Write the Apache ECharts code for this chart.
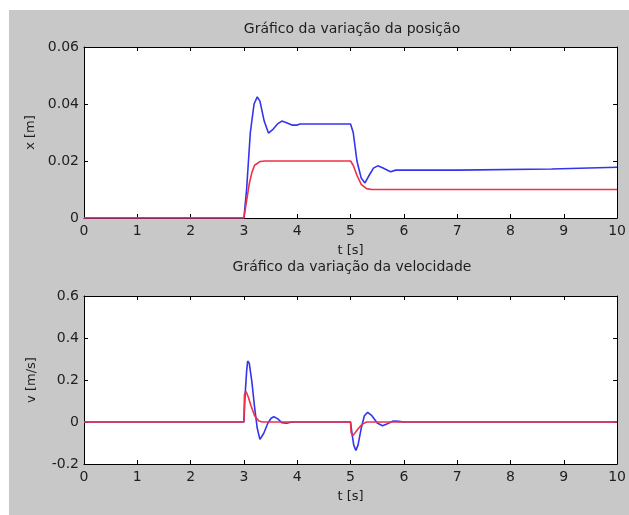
<!DOCTYPE html>
<html>
<head>
<meta charset="utf-8">
<script src="https://cdn.jsdelivr.net/npm/echarts@6/dist/echarts.min.js"></script>
<style>
html,body{margin:0;padding:0;background:#fff;width:629px;height:515px;overflow:hidden;}
#c{position:absolute;left:9px;top:10px;width:620px;height:505px;}
</style>
</head>
<body>
<div id="c"></div>
<script>
// ---- data ----
var titles = ['Gráfico da variação da posição', 'Gráfico da variação da velocidade'];
var xTickLabels = ['0','1','2','3','4','5','6','7','8','9','10'];
var posTickLabels = ['0','0.02','0.04','0.06'];
var velTickLabels = ['-0.2','0','0.2','0.4','0.6'];

var positionBlue = [
  [0,0],[3.0,0],[3.05,0.010],[3.12,0.030],[3.19,0.040],[3.25,0.0425],[3.3,0.041],
  [3.38,0.034],[3.46,0.0298],[3.55,0.0312],[3.63,0.0330],[3.71,0.0340],[3.8,0.0334],
  [3.9,0.0326],[4.0,0.0326],[4.05,0.0330],[5.0,0.0330],[5.05,0.0300],[5.12,0.0200],
  [5.2,0.0140],[5.27,0.0123],[5.35,0.0150],[5.43,0.0175],[5.51,0.0183],[5.6,0.0176],
  [5.75,0.0162],[5.85,0.0168],[7.0,0.0168],[8.77,0.0172],[8.78,0.0178],[10,0.0178]
];
var positionRed = [
  [0,0],[3.0,0],[3.05,0.006],[3.1,0.012],[3.15,0.016],[3.2,0.0185],[3.3,0.0198],
  [3.4,0.0200],[5.0,0.0200],[5.05,0.0185],[5.12,0.0150],[5.2,0.0118],[5.3,0.0103],
  [5.4,0.0100],[10,0.0100]
];
var velocityBlue = [
  [0,0],[3.0,0],[3.02,0.12],[3.05,0.24],[3.07,0.29],[3.1,0.28],[3.15,0.19],[3.2,0.07],
  [3.25,-0.03],[3.3,-0.083],[3.37,-0.055],[3.45,-0.005],[3.51,0.018],[3.56,0.025],
  [3.63,0.016],[3.71,-0.003],[3.8,-0.006],[3.9,0],[5.0,0],[5.03,-0.06],[5.06,-0.11],
  [5.1,-0.135],[5.14,-0.11],[5.2,-0.03],[5.26,0.03],[5.32,0.046],[5.4,0.03],
  [5.5,-0.005],[5.6,-0.018],[5.68,-0.01],[5.8,0.005],[5.9,0.003],[6.0,0],[10,0]
];
var velocityRed = [
  [0,0],[3.0,0],[3.01,0.13],[3.04,0.145],[3.08,0.12],[3.13,0.08],[3.2,0.03],
  [3.28,0.005],[3.35,0],[5.0,0],[5.01,-0.05],[5.04,-0.065],[5.09,-0.05],[5.15,-0.03],
  [5.22,-0.01],[5.3,0],[10,0]
];

// ---- chart ----
var FONT = 'DejaVu Sans';
var TXT = '#1e1e1e';
var chart = echarts.init(document.getElementById('c'), null, {renderer:'canvas'});

function xAx(grid, bottom, name) {
  return {
    type:'value', gridIndex:grid, position: bottom ? 'bottom' : 'top',
    min:0, max:10, interval:1,
    name: bottom ? name : '', nameLocation:'middle', nameGap:26,
    nameTextStyle:{color:TXT, fontFamily:FONT, fontSize:13},
    axisLine:{show:true, onZero:false, lineStyle:{color:'#000', width:1}},
    axisTick:{show:true, inside:true, length:4, lineStyle:{color:'#000'}},
    axisLabel:{show:bottom, color:TXT, fontFamily:FONT, fontSize:14, margin:6,
      formatter:function(v){ return xTickLabels[Math.round(v)]; }},
    splitLine:{show:false}
  };
}
function yAx(grid, left, min, max, interval, labels, name) {
  return {
    type:'value', gridIndex:grid, position: left ? 'left' : 'right',
    min:min, max:max, interval:interval,
    name: left ? name : '', nameLocation:'middle', nameGap:46, nameRotate:90,
    nameTextStyle:{color:TXT, fontFamily:FONT, fontSize:13},
    axisLine:{show:true, onZero:false, lineStyle:{color:'#000', width:1}},
    axisTick:{show:true, inside:true, length:4, lineStyle:{color:'#000'}},
    axisLabel:{show:left, color:TXT, fontFamily:FONT, fontSize:14, margin:5,
      formatter:function(v){ return labels[Math.round((v-min)/interval)]; }},
    splitLine:{show:false}
  };
}
function line(data, color, xi, yi) {
  return {type:'line', data:data, xAxisIndex:xi, yAxisIndex:yi, showSymbol:false,
    symbol:'none', lineStyle:{color:color, width:1.6}, itemStyle:{color:color},
    animation:false, silent:true};
}

chart.setOption({
  backgroundColor:'#c8c8c8',
  animation:false,
  title:[
    {text:titles[0], left:343, top:12, textAlign:'center', padding:0,
     textStyle:{color:TXT, fontFamily:FONT, fontSize:14, fontWeight:'normal'}},
    {text:titles[1], left:343, top:250, textAlign:'center', padding:0,
     textStyle:{color:TXT, fontFamily:FONT, fontSize:14, fontWeight:'normal'}}
  ],
  grid:[
    {left:75, top:37, width:537, height:171, show:true, backgroundColor:'#fff', borderWidth:0, containLabel:false},
    {left:75, top:286, width:537, height:168, show:true, backgroundColor:'#fff', borderWidth:0, containLabel:false}
  ],
  xAxis:[ xAx(0,true,'t [s]'), xAx(0,false), xAx(1,true,'t [s]'), xAx(1,false) ],
  yAxis:[
    yAx(0,true,0,0.06,0.02,posTickLabels,'x [m]'),
    yAx(0,false,0,0.06,0.02,posTickLabels),
    yAx(1,true,-0.2,0.6,0.2,velTickLabels,'v [m/s]'),
    yAx(1,false,-0.2,0.6,0.2,velTickLabels)
  ],
  series:[
    line(positionBlue,'#3434ee',0,0),
    line(positionRed,'#ee3048',0,0),
    line(velocityBlue,'#3434ee',2,2),
    line(velocityRed,'#ee3048',2,2)
  ]
});
</script>
</body>
</html>
